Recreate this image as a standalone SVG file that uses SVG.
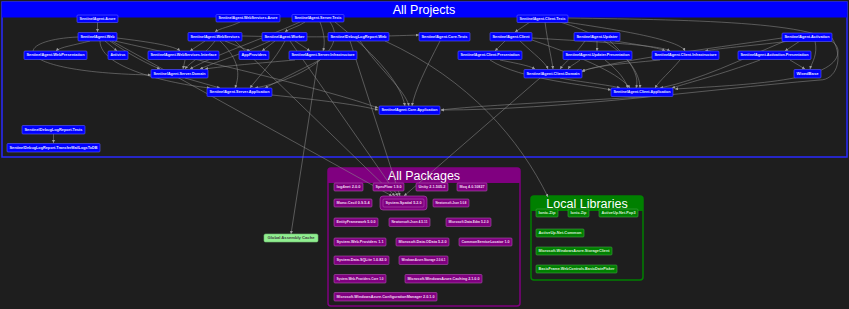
<svg xmlns="http://www.w3.org/2000/svg" width="849" height="309" viewBox="0 0 849 309">
  <style>
    .bg { fill: #1e1e1e; }
    .title { font-family: "Liberation Sans", "DejaVu Sans", sans-serif; font-size: 12.5px; fill: #ffffff; text-anchor: middle; }
    .lbl { font-family: "Liberation Sans", "DejaVu Sans", sans-serif; font-size: 3.8px; font-weight: bold; text-anchor: middle; dominant-baseline: central; }
    .proj rect { fill: #0000ff; stroke: #5a5aff; stroke-width: 0.6; }
    .proj text { fill: #e6e6ff; }
    .pkg rect { fill: #800080; stroke: #b050b0; stroke-width: 0.6; }
    .pkg text { fill: #f0d8f0; }
    .lib rect { fill: #008000; stroke: #40a040; stroke-width: 0.6; }
    .lib text { fill: #d8f0d8; }
    .gac rect { fill: #90ee90; stroke: #70c070; stroke-width: 0.6; }
    .gac text { fill: #404040; }
    .edges path { fill: none; stroke: #8c8c8c; stroke-width: 0.55; marker-end: url(#arr); }
  </style>
  <defs>
    <marker id="arr" viewBox="0 0 4 4" refX="4" refY="2" markerWidth="3" markerHeight="3" markerUnits="userSpaceOnUse" orient="auto">
      <path d="M0,0 L4,2 L0,4 z" fill="#a0a0a0"/>
    </marker>
  </defs>

  <rect class="bg" x="0" y="0" width="849" height="309"/>

  <!-- group frames -->
  <g id="frame-projects">
    <rect x="2" y="2" width="845" height="155" fill="none" stroke="#2a2aff" stroke-width="1.5"/>
    <rect x="2" y="2" width="845" height="15.5" fill="#0000ff"/>
    <text class="title" x="424" y="14">All Projects</text>
  </g>
  <g id="frame-packages">
    <rect x="328" y="168" width="192" height="138" rx="3" fill="none" stroke="#800080" stroke-width="1.5"/>
    <path d="M328,183 V171 a3,3 0 0 1 3,-3 H517 a3,3 0 0 1 3,3 V183 z" fill="#800080"/>
    <text class="title" x="424" y="180">All Packages</text>
  </g>
  <g id="frame-local">
    <rect x="531" y="196" width="112" height="84" rx="3" fill="none" stroke="#008000" stroke-width="1.5"/>
    <path d="M531,211 V199 a3,3 0 0 1 3,-3 H640 a3,3 0 0 1 3,3 V211 z" fill="#008000"/>
    <text class="title" x="587" y="208">Local Libraries</text>
  </g>

  <!-- dependency connectors -->
  <g id="edges" class="edges">
    <path d="M97.5,22 L97.5,32"/>
    <path d="M240,22 C230,27 220,28 215,32"/>
    <path d="M305,22 C298,27 290,28 285,32"/>
    <path d="M320,22 C325,35 325,45 323,51"/>
    <path d="M300,22 C260,40 215,55 190,69"/>
    <path d="M330,22 C350,50 300,80 255,88"/>
    <path d="M335,22 C370,50 400,80 405,106"/>
    <path d="M530,22 L515,32"/>
    <path d="M545,22 C548,45 552,60 553,69"/>
    <path d="M560,22 C620,40 640,70 640,88"/>
    <path d="M565,22 C620,30 680,40 685,51"/>
    <path d="M568,18 C700,20 835,22 838,50 C840,80 760,84 675,89"/>
    <path d="M90,41 C75,45 60,47 56,51"/>
    <path d="M105,41 L117,51"/>
    <path d="M117,38 C150,42 175,46 180,51"/>
    <path d="M110,41 C130,55 150,65 160,69"/>
    <path d="M100,41 C100,70 180,85 210,88"/>
    <path d="M115,41 C200,60 330,90 378,108"/>
    <path d="M78,37 C10,40 8,72 151,75"/>
    <path d="M112,41 L392,196"/>
    <path d="M205,41 L190,51"/>
    <path d="M225,41 L250,51"/>
    <path d="M215,41 C205,55 190,62 185,69"/>
    <path d="M220,41 C240,60 240,75 235,88"/>
    <path d="M235,41 L395,196"/>
    <path d="M242,36 C330,38 390,36 419,35"/>
    <path d="M275,41 L262,51"/>
    <path d="M295,41 L310,51"/>
    <path d="M270,41 C240,55 215,62 200,69"/>
    <path d="M285,41 C275,60 260,75 250,88"/>
    <path d="M290,41 L398,196"/>
    <path d="M360,41 C380,70 405,90 409,106"/>
    <path d="M385,41 C470,80 520,140 548,197"/>
    <path d="M350,41 L400,196"/>
    <path d="M440,41 C425,70 415,90 412,106"/>
    <path d="M505,41 L495,51"/>
    <path d="M520,41 C535,55 545,62 548,69"/>
    <path d="M532,40 C590,60 620,75 630,88"/>
    <path d="M532,38 C600,42 660,45 670,51"/>
    <path d="M597,41 L597,51"/>
    <path d="M585,41 C575,55 565,62 560,69"/>
    <path d="M610,41 C630,60 640,75 636,88"/>
    <path d="M615,41 C640,45 660,48 665,51"/>
    <path d="M790,41 C760,45 720,48 705,51"/>
    <path d="M800,41 L785,51"/>
    <path d="M815,41 C818,55 812,62 810,69"/>
    <path d="M785,41 C740,60 700,80 660,88"/>
    <path d="M782,38 C700,50 620,60 582,71"/>
    <path d="M832,38 C845,60 835,80 820,80 C700,90 560,110 441,110"/>
    <path d="M185,60 L183,69"/>
    <path d="M295,60 C260,63 225,66 205,69"/>
    <path d="M320,60 C300,70 280,80 265,88"/>
    <path d="M318,60 L291,234"/>
    <path d="M500,60 C520,64 530,66 535,69"/>
    <path d="M490,60 C520,80 590,85 611,90"/>
    <path d="M580,60 C575,64 570,66 568,69"/>
    <path d="M605,60 C620,72 625,80 628,88"/>
    <path d="M660,60 C620,64 590,66 582,72"/>
    <path d="M680,60 C670,72 660,80 655,88"/>
    <path d="M790,60 L805,69"/>
    <path d="M760,60 C720,75 690,82 672,88"/>
    <path d="M185,78 L220,88"/>
    <path d="M560,78 C580,82 610,85 620,88"/>
    <path d="M272,95 C320,100 360,105 378,110"/>
    <path d="M673,95 C600,100 480,105 441,110"/>
    <path d="M540,78 L404,196"/>
    <path d="M53.5,134 L53.5,143"/>
  </g>

  <!-- project nodes -->
  <g id="n-azure" class="proj"><rect x="77" y="15" width="41" height="7.5" rx="1"/><text class="lbl" x="97.5" y="18.75" textLength="36" lengthAdjust="spacingAndGlyphs">SentinelAgent.Azure</text></g>
  <g id="n-webservices-azure" class="proj"><rect x="216" y="14.5" width="64" height="7.5" rx="1"/><text class="lbl" x="248" y="18.25" textLength="59" lengthAdjust="spacingAndGlyphs">SentinelAgent.WebServices.Azure</text></g>
  <g id="n-server-tests" class="proj"><rect x="292" y="14.5" width="52" height="7.5" rx="1"/><text class="lbl" x="318" y="18.25" textLength="47" lengthAdjust="spacingAndGlyphs">SentinelAgent.Server.Tests</text></g>
  <g id="n-client-tests" class="proj"><rect x="517" y="15" width="51" height="7.5" rx="1"/><text class="lbl" x="542.5" y="18.75" textLength="46" lengthAdjust="spacingAndGlyphs">SentinelAgent.Client.Tests</text></g>

  <g id="n-web" class="proj"><rect x="78" y="32.5" width="39" height="8.5" rx="1"/><text class="lbl" x="97.5" y="36.75" textLength="34" lengthAdjust="spacingAndGlyphs">SentinelAgent.Web</text></g>
  <g id="n-webservices" class="proj"><rect x="188" y="32.5" width="54" height="8.5" rx="1"/><text class="lbl" x="215" y="36.75" textLength="49" lengthAdjust="spacingAndGlyphs">SentinelAgent.WebServices</text></g>
  <g id="n-worker" class="proj"><rect x="262" y="32.5" width="45" height="8.5" rx="1"/><text class="lbl" x="284.5" y="36.75" textLength="40" lengthAdjust="spacingAndGlyphs">SentinelAgent.Worker</text></g>
  <g id="n-debuglog-web" class="proj"><rect x="328" y="32.5" width="61" height="8.5" rx="1"/><text class="lbl" x="358.5" y="36.75" textLength="56" lengthAdjust="spacingAndGlyphs">SentinelDebugLogReport.Web</text></g>
  <g id="n-core-tests" class="proj"><rect x="419" y="32.5" width="51" height="8.5" rx="1"/><text class="lbl" x="444.5" y="36.75" textLength="46" lengthAdjust="spacingAndGlyphs">SentinelAgent.Core.Tests</text></g>
  <g id="n-client" class="proj"><rect x="490" y="32.5" width="42" height="8.5" rx="1"/><text class="lbl" x="511" y="36.75" textLength="37" lengthAdjust="spacingAndGlyphs">SentinelAgent.Client</text></g>
  <g id="n-updater" class="proj"><rect x="574" y="32.5" width="46" height="8.5" rx="1"/><text class="lbl" x="597" y="36.75" textLength="41" lengthAdjust="spacingAndGlyphs">SentinelAgent.Updater</text></g>
  <g id="n-activation" class="proj"><rect x="782" y="33" width="50" height="8.5" rx="1"/><text class="lbl" x="807" y="37.25" textLength="45" lengthAdjust="spacingAndGlyphs">SentinelAgent.Activation</text></g>

  <g id="n-webpresentation" class="proj"><rect x="24" y="51" width="63" height="8.5" rx="1"/><text class="lbl" x="55.5" y="55.25" textLength="58" lengthAdjust="spacingAndGlyphs">SentinelAgent.WebPresentation</text></g>
  <g id="n-antivirus" class="proj"><rect x="108" y="51" width="20" height="8.5" rx="1"/><text class="lbl" x="118" y="55.25" textLength="15" lengthAdjust="spacingAndGlyphs">Antivirus</text></g>
  <g id="n-webservices-interface" class="proj"><rect x="148" y="51" width="71" height="8.5" rx="1"/><text class="lbl" x="183.5" y="55.25" textLength="66" lengthAdjust="spacingAndGlyphs">SentinelAgent.WebServices.Interface</text></g>
  <g id="n-appproviders" class="proj"><rect x="239" y="51" width="30" height="8.5" rx="1"/><text class="lbl" x="254" y="55.25" textLength="25" lengthAdjust="spacingAndGlyphs">AppProviders</text></g>
  <g id="n-server-infrastructure" class="proj"><rect x="289" y="51" width="68" height="8.5" rx="1"/><text class="lbl" x="323" y="55.25" textLength="63" lengthAdjust="spacingAndGlyphs">SentinelAgent.Server.Infrastructure</text></g>
  <g id="n-client-presentation" class="proj"><rect x="458" y="51" width="64" height="8.5" rx="1"/><text class="lbl" x="490" y="55.25" textLength="59" lengthAdjust="spacingAndGlyphs">SentinelAgent.Client.Presentation</text></g>
  <g id="n-updater-presentation" class="proj"><rect x="563" y="51" width="69" height="8.5" rx="1"/><text class="lbl" x="597.5" y="55.25" textLength="64" lengthAdjust="spacingAndGlyphs">SentinelAgent.Updater.Presentation</text></g>
  <g id="n-client-infrastructure" class="proj"><rect x="652" y="51" width="67" height="8.5" rx="1"/><text class="lbl" x="685.5" y="55.25" textLength="62" lengthAdjust="spacingAndGlyphs">SentinelAgent.Client.Infrastructure</text></g>
  <g id="n-activation-presentation" class="proj"><rect x="738" y="51" width="73" height="8.5" rx="1"/><text class="lbl" x="774.5" y="55.25" textLength="68" lengthAdjust="spacingAndGlyphs">SentinelAgent.Activation.Presentation</text></g>

  <g id="n-server-domain" class="proj"><rect x="151" y="69.5" width="57" height="8.5" rx="1"/><text class="lbl" x="179.5" y="73.75" textLength="52" lengthAdjust="spacingAndGlyphs">SentinelAgent.Server.Domain</text></g>
  <g id="n-client-domain" class="proj"><rect x="524" y="69.5" width="58" height="8.5" rx="1"/><text class="lbl" x="553" y="73.75" textLength="53" lengthAdjust="spacingAndGlyphs">SentinelAgent.Client.Domain</text></g>
  <g id="n-wixedbase" class="proj"><rect x="794" y="69.5" width="27" height="8.5" rx="1"/><text class="lbl" x="807.5" y="73.75" textLength="22" lengthAdjust="spacingAndGlyphs">WixedBase</text></g>

  <g id="n-server-application" class="proj"><rect x="207" y="88" width="65" height="8.5" rx="1"/><text class="lbl" x="239.5" y="92.25" textLength="60" lengthAdjust="spacingAndGlyphs">SentinelAgent.Server.Application</text></g>
  <g id="n-client-application" class="proj"><rect x="611" y="88" width="62" height="8.5" rx="1"/><text class="lbl" x="642" y="92.25" textLength="57" lengthAdjust="spacingAndGlyphs">SentinelAgent.Client.Application</text></g>
  <g id="n-core-application" class="proj"><rect x="379" y="106" width="61" height="8.5" rx="1"/><text class="lbl" x="409.5" y="110.25" textLength="56" lengthAdjust="spacingAndGlyphs">SentinelAgent.Core.Application</text></g>

  <g id="n-debuglog-tests" class="proj"><rect x="22" y="125.5" width="63" height="8.5" rx="1"/><text class="lbl" x="53.5" y="129.75" textLength="58" lengthAdjust="spacingAndGlyphs">SentinelDebugLogReport.Tests</text></g>
  <g id="n-debuglog-transfer" class="proj"><rect x="7" y="143.5" width="93" height="8.5" rx="1"/><text class="lbl" x="53.5" y="147.75" textLength="88" lengthAdjust="spacingAndGlyphs">SentinelDebugLogReport.TransferMailLogsToDB</text></g>

  <!-- package nodes -->
  <g id="p-log4net" class="pkg"><rect x="334" y="183" width="29" height="8" rx="1"/><text class="lbl" x="348.5" y="187" textLength="24" lengthAdjust="spacingAndGlyphs">log4net 2.0.0</text></g>
  <g id="p-specflow" class="pkg"><rect x="373" y="183" width="31" height="8" rx="1"/><text class="lbl" x="388.5" y="187" textLength="26" lengthAdjust="spacingAndGlyphs">SpecFlow 1.9.0</text></g>
  <g id="p-unity" class="pkg"><rect x="416" y="183" width="32" height="8" rx="1"/><text class="lbl" x="432" y="187" textLength="27" lengthAdjust="spacingAndGlyphs">Unity 2.1.505.2</text></g>
  <g id="p-moq" class="pkg"><rect x="457" y="183" width="30" height="8" rx="1"/><text class="lbl" x="472" y="187" textLength="25" lengthAdjust="spacingAndGlyphs">Moq 4.0.10827</text></g>
  <g id="p-cecil" class="pkg"><rect x="334" y="199" width="38" height="8" rx="1"/><text class="lbl" x="353" y="203" textLength="33" lengthAdjust="spacingAndGlyphs">Mono.Cecil 0.9.5.4</text></g>
  <g id="p-spatial" class="pkg">
    <rect x="380" y="196" width="47" height="14" rx="3" fill="none" stroke="#ffd700" stroke-width="2.5"/>
    <rect x="383" y="199" width="41" height="8" rx="1"/><text class="lbl" x="403.5" y="203" textLength="36" lengthAdjust="spacingAndGlyphs">System.Spatial 5.2.0</text>
  </g>
  <g id="p-json508" class="pkg"><rect x="433" y="199" width="36" height="8" rx="1"/><text class="lbl" x="451" y="203" textLength="31" lengthAdjust="spacingAndGlyphs">Newtonsoft.Json 5.0.8</text></g>
  <g id="p-ef" class="pkg"><rect x="334" y="218" width="44" height="8.5" rx="1"/><text class="lbl" x="356" y="222.25" textLength="39" lengthAdjust="spacingAndGlyphs">EntityFramework 5.0.0</text></g>
  <g id="p-json4511" class="pkg"><rect x="389" y="218" width="41" height="8.5" rx="1"/><text class="lbl" x="409.5" y="222.25" textLength="36" lengthAdjust="spacingAndGlyphs">Newtonsoft.Json 4.5.11</text></g>
  <g id="p-edm" class="pkg"><rect x="446" y="218" width="45" height="8.5" rx="1"/><text class="lbl" x="468.5" y="222.25" textLength="40" lengthAdjust="spacingAndGlyphs">Microsoft.Data.Edm 5.2.0</text></g>
  <g id="p-webproviders" class="pkg"><rect x="334" y="238" width="52" height="8" rx="1"/><text class="lbl" x="360" y="242" textLength="47" lengthAdjust="spacingAndGlyphs">System.Web.Providers 1.1</text></g>
  <g id="p-odata" class="pkg"><rect x="396" y="238" width="53" height="8" rx="1"/><text class="lbl" x="422.5" y="242" textLength="48" lengthAdjust="spacingAndGlyphs">Microsoft.Data.OData 5.2.0</text></g>
  <g id="p-csl" class="pkg"><rect x="459" y="238" width="53" height="8" rx="1"/><text class="lbl" x="485.5" y="242" textLength="48" lengthAdjust="spacingAndGlyphs">CommonServiceLocator 1.0</text></g>
  <g id="p-sqlite" class="pkg"><rect x="334" y="256" width="55" height="8.5" rx="1"/><text class="lbl" x="361.5" y="260.25" textLength="50" lengthAdjust="spacingAndGlyphs">System.Data.SQLite 1.0.82.0</text></g>
  <g id="p-storage" class="pkg"><rect x="399" y="256" width="49" height="8.5" rx="1"/><text class="lbl" x="423.5" y="260.25" textLength="44" lengthAdjust="spacingAndGlyphs">WindowsAzure.Storage 2.0.6.1</text></g>
  <g id="p-providerscore" class="pkg"><rect x="334" y="274.5" width="52" height="8.5" rx="1"/><text class="lbl" x="360" y="278.75" textLength="47" lengthAdjust="spacingAndGlyphs">System.Web.Providers.Core 1.0</text></g>
  <g id="p-caching" class="pkg"><rect x="405" y="274.5" width="77" height="8.5" rx="1"/><text class="lbl" x="443.5" y="278.75" textLength="72" lengthAdjust="spacingAndGlyphs">Microsoft.WindowsAzure.Caching 2.1.0.0</text></g>
  <g id="p-configmanager" class="pkg"><rect x="334" y="292.5" width="103" height="8.5" rx="1"/><text class="lbl" x="385.5" y="296.75" textLength="98" lengthAdjust="spacingAndGlyphs">Microsoft.WindowsAzure.ConfigurationManager 2.0.1.0</text></g>

  <!-- local library nodes -->
  <g id="l-ioniczip-1" class="lib"><rect x="536" y="209" width="22" height="8" rx="1"/><text class="lbl" x="547" y="213" textLength="17" lengthAdjust="spacingAndGlyphs">Ionic.Zip</text></g>
  <g id="l-ioniczip-2" class="lib"><rect x="568" y="209" width="21" height="8" rx="1"/><text class="lbl" x="578.5" y="213" textLength="16" lengthAdjust="spacingAndGlyphs">Ionic.Zip</text></g>
  <g id="l-pop3" class="lib"><rect x="599" y="209" width="39" height="8" rx="1"/><text class="lbl" x="618.5" y="213" textLength="34" lengthAdjust="spacingAndGlyphs">ActiveUp.Net.Pop3</text></g>
  <g id="l-common" class="lib"><rect x="536" y="229" width="48" height="8" rx="1"/><text class="lbl" x="560" y="233" textLength="43" lengthAdjust="spacingAndGlyphs">ActiveUp.Net.Common</text></g>
  <g id="l-storageclient" class="lib"><rect x="536" y="247" width="76" height="8" rx="1"/><text class="lbl" x="574" y="251" textLength="71" lengthAdjust="spacingAndGlyphs">Microsoft.WindowsAzure.StorageClient</text></g>
  <g id="l-datepicker" class="lib"><rect x="536" y="265" width="81" height="8" rx="1"/><text class="lbl" x="576.5" y="269" textLength="76" lengthAdjust="spacingAndGlyphs">BasicFrame.WebControls.BasicDatePicker</text></g>

  <!-- global assembly cache -->
  <g id="gac" class="gac"><rect x="264" y="234" width="54" height="8" rx="1.5"/><text class="lbl" x="291" y="238" textLength="47" lengthAdjust="spacingAndGlyphs" font-weight="normal">Global Assembly Cache</text></g>
</svg>
